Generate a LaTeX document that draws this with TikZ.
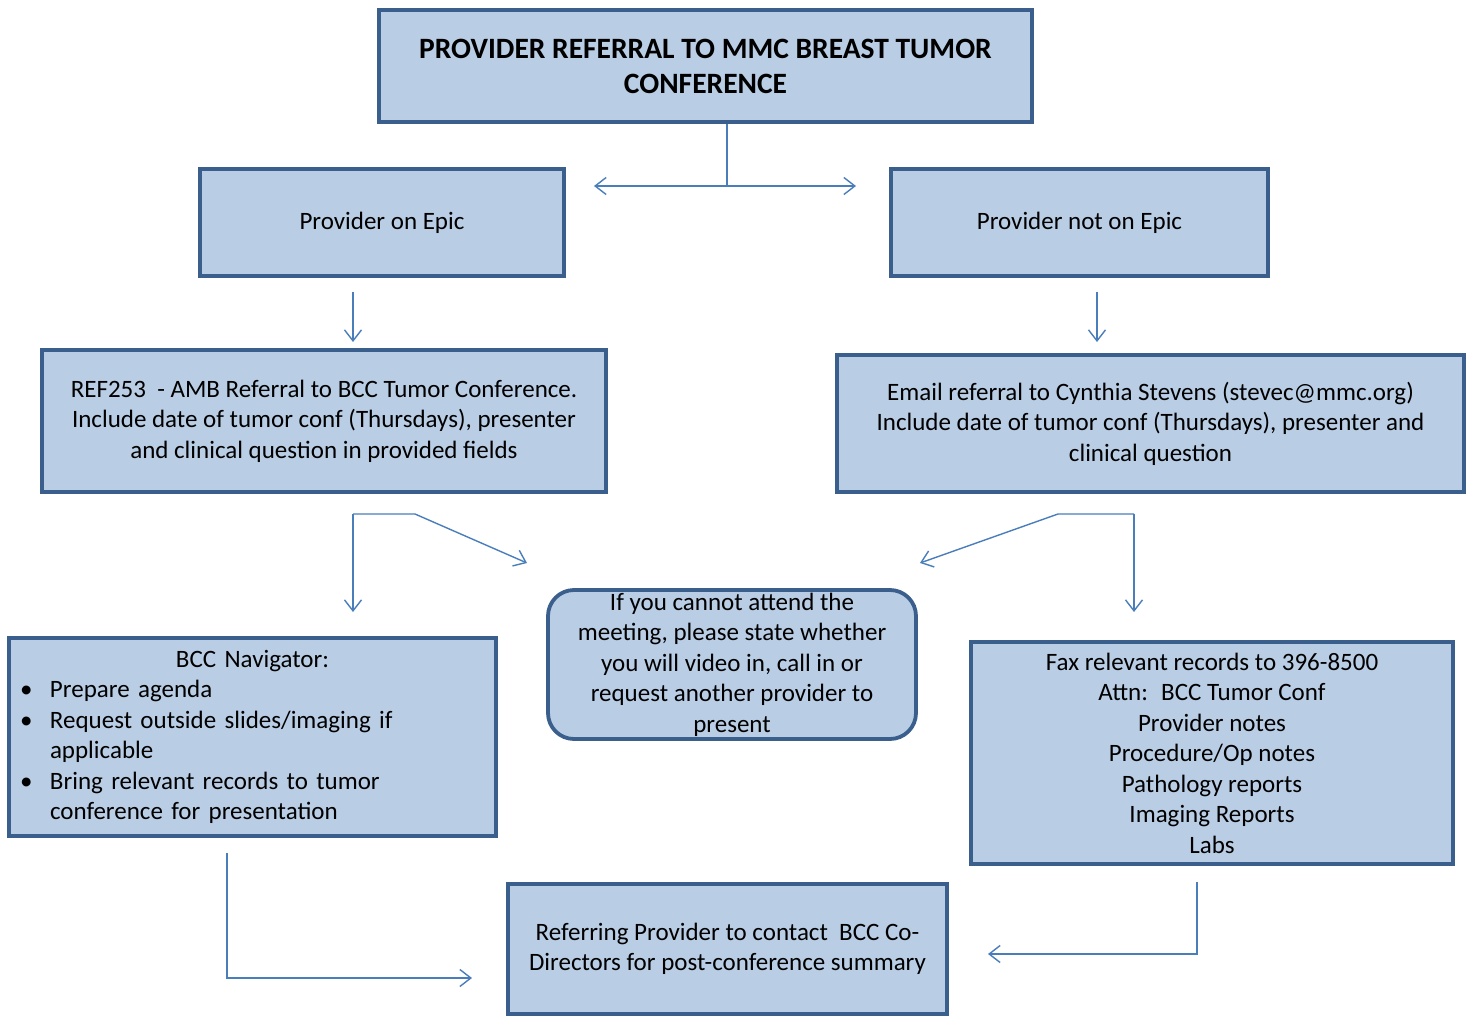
\documentclass[tikz,border=0pt]{standalone}
\usepackage{fontspec}
\setmainfont{Carlito}
\usetikzlibrary{arrows.meta}
\definecolor{boxfill}{HTML}{B9CDE5}
\definecolor{boxline}{HTML}{3A5F8D}
\definecolor{arrcol}{HTML}{4A7EBB}
\newcommand{\bulitem}{\makebox[33pt][l]{\hspace{3pt}\textbullet}}
\begin{document}
\begin{tikzpicture}[x=1pt,y=-1pt,
  box/.style={draw=boxline, fill=boxfill, line width=3.8pt, inner sep=0pt, align=center,
    font=\fontsize{25}{30.5}\selectfont, text=black},
  conn/.style={draw=arrcol, line width=1.4pt},
  arr/.style={conn, -{Straight Barb[length=11pt,width=17pt,line width=1.4pt]}},
  darr/.style={conn, {Straight Barb[length=11pt,width=17pt,line width=1.4pt]}-{Straight Barb[length=11pt,width=17pt,line width=1.4pt]}}]
\useasboundingbox (0,0) rectangle (1476,1017);
\fill[white] (0,0) rectangle (1476,1017);

\node[box, minimum width=653, minimum height=112, font=\fontsize{29.5}{35}\selectfont\bfseries] (title) at (705.5,66)
  {PROVIDER REFERRAL TO MMC BREAST TUMOR\\CONFERENCE};
\node[box, minimum width=364, minimum height=107] (epic) at (382,222.5) {Provider on Epic};
\node[box, minimum width=377, minimum height=107] (noepic) at (1079.5,222.5) {Provider not on Epic};
\node[box, minimum width=564, minimum height=142] (ref) at (324,421)
  {REF253 \ - AMB Referral to BCC Tumor Conference.\\Include date of tumor conf (Thursdays), presenter\\and clinical question in provided fields};
\node[box, minimum width=627, minimum height=137] (email) at (1150.5,423.5)
  {Email referral to Cynthia Stevens (stevec@mmc.org)\\Include date of tumor conf (Thursdays), presenter and\\clinical question};
\node[box, rounded corners=26pt, minimum width=368, minimum height=149] (mid) at (732,664.5)
  {If you cannot attend the\\meeting, please state whether\\you will video in, call in or\\request another provider to\\present};
\node[box, minimum width=487, minimum height=198, text width=471, align=left] (nav) at (252.5,737)
  {{\centering BCC Navigator:\par}\raggedright
   \bulitem Prepare agenda\par
   \bulitem Request outside slides/imaging if\par
   \hspace*{33pt}applicable\par
   \bulitem Bring relevant records to tumor\par
   \hspace*{33pt}conference for presentation\par};
\node[box, minimum width=482, minimum height=222] (fax) at (1212,753)
  {Fax relevant records to 396-8500\\Attn: \ BCC Tumor Conf\\Provider notes\\Procedure/Op notes\\Pathology reports\\Imaging Reports\\Labs};
\node[box, minimum width=439, minimum height=130] (summary) at (727.5,949)
  {Referring Provider to contact \ BCC Co-\\Directors for post-conference summary};

% connectors
\coordinate (t1) at (727,124);
\coordinate (t2) at (727,186);
\coordinate (tl) at (594,186);
\coordinate (tr) at (856,186);
\draw[conn] (t1) -- (t2);
\draw[darr] (tl) -- (tr);

\coordinate (e1) at (353,292);
\coordinate (e2) at (353,342);
\draw[arr] (e1) -- (e2);
\coordinate (n1) at (1097,292);
\coordinate (n2) at (1097,342);
\draw[arr] (n1) -- (n2);

\coordinate (r1) at (353,514);
\coordinate (r2) at (353,612);
\coordinate (r3) at (415,514);
\coordinate (r4) at (527,563);
\draw[arr] (r1) -- (r2);
\draw[arr] (r1) -- (r3) -- (r4);

\coordinate (m1) at (1134,514);
\coordinate (m2) at (1134,612);
\coordinate (m3) at (1058,514);
\coordinate (m4) at (920,563);
\draw[arr] (m1) -- (m2);
\draw[arr] (m1) -- (m3) -- (m4);

\coordinate (b1) at (227,853);
\coordinate (b2) at (227,978);
\coordinate (b3) at (472,978);
\draw[arr] (b1) -- (b2) -- (b3);

\coordinate (f1) at (1197,882);
\coordinate (f2) at (1197,954);
\coordinate (f3) at (988,954);
\draw[arr] (f1) -- (f2) -- (f3);
\end{tikzpicture}
\end{document}
